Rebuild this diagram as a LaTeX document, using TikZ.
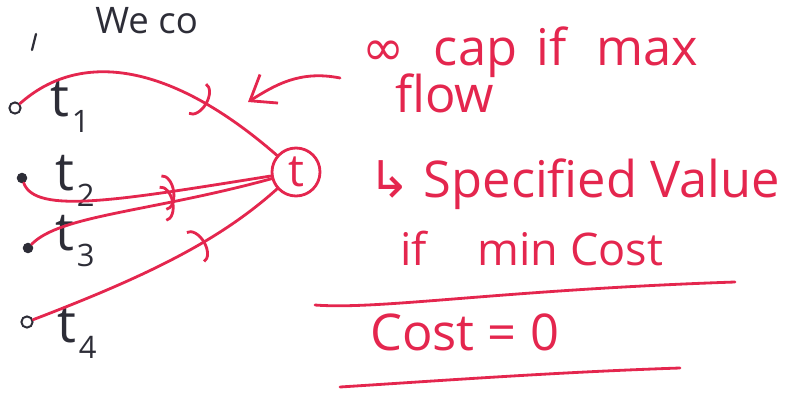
\documentclass[tikz,border=0pt]{standalone}
\usepackage{fontspec}
\setmainfont{Open Sans}
\newfontfamily\symfont{DejaVu Sans}
\usetikzlibrary{arrows.meta,positioning,decorations.markings}
\definecolor{penred}{RGB}{228,38,78}
\definecolor{penblack}{RGB}{45,45,55}
\newcommand{\tsub}[1]{t\kern2pt\raisebox{-0.3em}{\fontsize{22}{22}\selectfont #1}}

\begin{document}
\begin{tikzpicture}[x=0.025cm, y=-0.025cm,
  ink/.style={penred,line width=2pt,line cap=round},
  flowedge/.style={ink,postaction={decorate},decoration={markings,mark=at position #1 with {\arrow{Arc Barb[length=8pt,width=26pt]}}}},
  tdot/.style={circle,draw=penblack,fill=penblack,line width=1.4pt,inner sep=0pt,minimum size=6pt},
  opendot/.style={tdot,fill=none,minimum size=8pt},
  tlabel/.style={text=penblack,font=\fontsize{38}{38}\selectfont,inner sep=0pt,anchor=base west},
  note/.style={text=penred,font=\fontsize{36}{40}\selectfont,inner sep=0pt,anchor=base west}]
  \path[use as bounding box,clip] (0,0) rectangle (787,394);
  % left side: terminals and the super sink
  \node[tlabel,font=\fontsize{26}{26}\selectfont] (topnote) at (95,34) {We co};
  \draw[penblack,line width=1.6pt,line cap=round] (36,34) -- (32,50);
  \node[opendot] (d1) at (15,108) {};
  \node[tdot] (d2) at (22,178) {};
  \node[tdot] (d3) at (28,248) {};
  \node[opendot] (d4) at (27,322) {};
  \node[tlabel] (t1) at (50,116) {\tsub{1}};
  \node[tlabel] (t2) at (55,190) {\tsub{2}};
  \node[tlabel] (t3) at (55,250) {\tsub{3}};
  \node[tlabel] (t4) at (57,342) {\tsub{4}};
  \node[circle,draw=penred,line width=2pt,text=penred,minimum size=1.2cm,inner sep=0pt,font=\fontsize{32}{32}\selectfont] (sink) at (296,172) {t};
  \draw[flowedge=0.7] (d1) .. controls (80,50) and (170,62) .. (sink);
  \draw[flowedge=0.62] (d2) .. controls (35,215) and (120,200) .. (sink);
  \draw[flowedge=0.6] (d3) .. controls (60,215) and (150,212) .. (sink);
  \draw[flowedge=0.68] (d4) .. controls (150,275) and (220,240) .. (sink);
  % right side: notes
  \node[note] (capnote) at (362,66) {{\symfont ∞}\hspace{21pt}cap\hspace{14pt}if\hspace{21pt}max};
  \node[note] (flownote) at (395,112) {flow};
  \coordinate (arrowtail) at (340,78);
  \coordinate (arrowtip) at (248,102);
  \draw[ink,-{Straight Barb[length=16pt,width=24pt]}] (arrowtail) .. controls (300,70) and (275,85) .. (arrowtip);
  \node[note] (specnote) at (368,197) {{\symfont ↳} Specified Value};
  \node[note,font=\fontsize{32}{36}\selectfont] (mincost) at (400,265) {if\hspace{36pt}min Cost};
  \draw[ink] (315,305) .. controls (380,310) and (500,290) .. (735,282);
  \node[note] (costzero) at (370,350) {Cost = 0};
  \draw[ink] (340,387) .. controls (450,380) and (560,372) .. (680,368);
\end{tikzpicture}
\end{document}
